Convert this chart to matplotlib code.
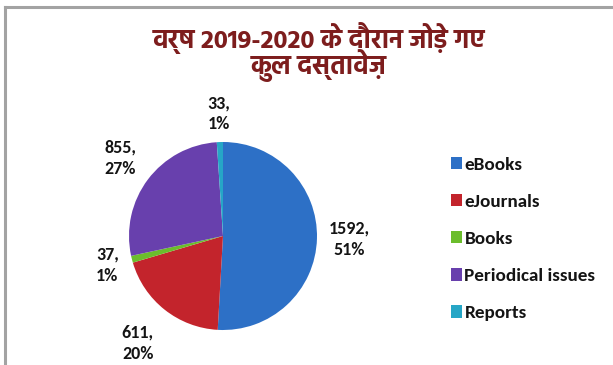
import matplotlib
matplotlib.use("Agg")
import numpy as np
import matplotlib.pyplot as plt
from matplotlib.patches import Patch
from matplotlib.lines import Line2D

categories = ["eBooks", "eJournals", "Books", "Periodical issues", "Reports"]
values = [1592, 611, 37, 855, 33]
percent_labels = ["51%", "20%", "1%", "27%", "1%"]
colors = ["#2d70c6", "#c3242c", "#6bbd2c", "#6840ad", "#26a6c6"]
label_dist = [1.34, 1.46, 1.27, 1.37, 1.30]
title = "वर्ष 2019-2020 के दौरान जोड़े गए\nकुल दस्तावेज़"

W, H = 613, 365
fig = plt.figure(figsize=(W / 100, H / 100), dpi=100)
fig.patch.set_facecolor("white")

# pie axes: centre (223, 236) px, radius 94 px
cx, cy, r = 223, 236, 94
ax = fig.add_axes([(cx - r) / W, (H - cy - r) / H, 2 * r / W, 2 * r / H])
wedges, _ = ax.pie(values, colors=colors, startangle=90, counterclock=False,
                   radius=1.0, wedgeprops=dict(linewidth=0))
ax.set_xlim(-1, 1)
ax.set_ylim(-1, 1)
ax.set_aspect("equal")
ax.axis("off")

label_font = dict(family=["Carlito", "DejaVu Sans"], fontsize=13, fontweight="bold",
                  color="#141414", ha="center", va="center", linespacing=1.4)
for w, v, p, d in zip(wedges, values, percent_labels, label_dist):
    mid = np.deg2rad((w.theta1 + w.theta2) / 2)
    ax.text(d * np.cos(mid), d * np.sin(mid), f"{v},\n{p}", clip_on=False, **label_font)

fig.text(319 / W, 1 - 52 / H, title, ha="center", va="center",
         family=["Hind", "Noto Sans Devanagari", "DejaVu Sans"], fontsize=18.6,
         fontweight="bold", color="#7d1d1d", linespacing=0.8)

handles = [Patch(facecolor=c, edgecolor="none") for c in colors]
leg = fig.legend(handles, categories, loc="upper left",
                 bbox_to_anchor=(451 / W, 1 - 157 / H),
                 prop=dict(family=["Carlito", "DejaVu Sans"], size=13.8, weight="bold"),
                 frameon=False, handlelength=0.55, handleheight=0.6,
                 handletextpad=0.15, labelspacing=1.1, borderpad=0, borderaxespad=0)
for t in leg.get_texts():
    t.set_color("#141414")

# outer frame (top and left edges)
fig.add_artist(Line2D([4.5 / W, 1], [1 - 7 / H, 1 - 7 / H], transform=fig.transFigure,
                      color="#a3a3a3", linewidth=2.2))
fig.add_artist(Line2D([5 / W, 5 / W], [0, 1 - 7 / H], transform=fig.transFigure,
                      color="#a3a3a3", linewidth=2.2))

fig.savefig("out.png", dpi=100, facecolor="white")
